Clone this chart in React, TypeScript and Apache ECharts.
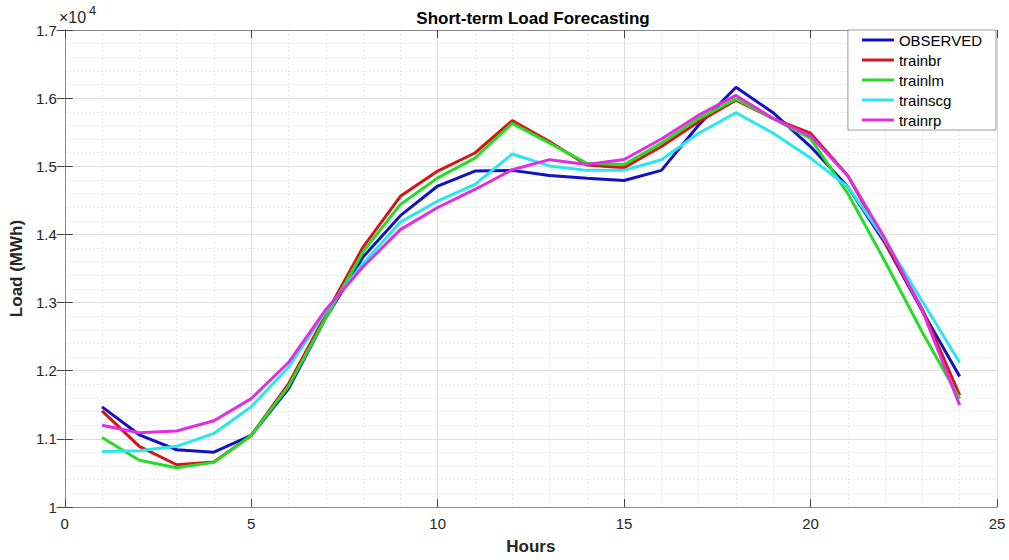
import React, { useEffect, useRef } from "react";
import * as echarts from "echarts";

const HOURS = [1, 2, 3, 4, 5, 6, 7, 8, 9, 10, 11, 12, 13, 14, 15, 16, 17, 18, 19, 20, 21, 22, 23, 24];

const OBSERVED = [11470, 11060, 10840, 10805, 11050, 11735, 12775, 13670, 14275, 14710, 14930, 14940, 14865, 14825, 14792, 14940, 15605, 16160, 15785, 15290, 14700, 13870, 12872, 11915];
const TRAINBR = [11410, 10890, 10620, 10660, 11050, 11805, 12823, 13815, 14560, 14930, 15195, 15670, 15363, 15020, 14980, 15290, 15655, 15970, 15700, 15485, 14860, 13880, 12900, 11640];
const TRAINLM = [11020, 10685, 10575, 10655, 11050, 11770, 12775, 13743, 14440, 14830, 15120, 15630, 15340, 15045, 15025, 15340, 15700, 15990, 15700, 15410, 14600, 13600, 12560, 11590];
const TRAINSCG = [10815, 10825, 10890, 11080, 11470, 12050, 12870, 13573, 14180, 14490, 14735, 15180, 15005, 14940, 14940, 15095, 15485, 15785, 15485, 15120, 14700, 13915, 13017, 12120];
const TRAINRP = [11200, 11090, 11115, 11265, 11590, 12120, 12895, 13525, 14070, 14395, 14660, 14950, 15097, 15025, 15100, 15400, 15750, 16040, 15700, 15445, 14860, 13935, 12880, 11495];

const SERIES_NAMES = ["OBSERVED", "trainbr", "trainlm", "trainscg", "trainrp"];
const SERIES_VALUES = [OBSERVED, TRAINBR, TRAINLM, TRAINSCG, TRAINRP];
const COLORS = ["#1212c2", "#d41616", "#27dc27", "#2ae6ef", "#e02ee0"];

const X_MIN = 0, X_MAX = 25, X_STEP = 5;
const Y_MIN = 10000, Y_MAX = 17000, Y_STEP = 1000;

const FONT = "Liberation Sans, Arial, Helvetica, sans-serif";
const TXT = "#262626";
const AX = "#8a8a8a";

export default function App() {
  const ref = useRef<HTMLDivElement>(null);
  useEffect(() => {
    if (!ref.current) return;
    const chart = echarts.init(ref.current, null, { renderer: "svg" });
    const baseX = {
      type: "value",
      min: X_MIN,
      max: X_MAX,
      interval: X_STEP,
    };
    const baseY = {
      type: "value",
      min: Y_MIN,
      max: Y_MAX,
      interval: Y_STEP,
    };
    chart.setOption({
      animation: false,
      backgroundColor: "#ffffff",
      textStyle: { fontFamily: FONT },
      title: {
        text: "Short-term Load Forecasting",
        left: 528,
        textAlign: "center",
        top: 5,
        textStyle: { fontFamily: FONT, fontSize: 17, fontWeight: "bold", color: "#000" },
      },
      grid: { left: 60, right: 12, top: 30, bottom: 49, containLabel: false },
      legend: {
        orient: "vertical",
        right: 13,
        top: 30,
        icon: "rect",
        itemWidth: 32,
        itemHeight: 3,
        itemGap: 4,
        padding: [2, 14, 2, 14],
        backgroundColor: "#ffffff",
        borderColor: "#9a9a9a",
        borderWidth: 1,
        borderRadius: 0,
        textStyle: { fontFamily: FONT, fontSize: 15, color: "#000", lineHeight: 16 },
        data: SERIES_NAMES,
      },
      xAxis: [
        {
          ...baseX,
          position: "bottom",
          name: "Hours",
          nameLocation: "middle",
          nameGap: 31,
          nameTextStyle: { fontFamily: FONT, fontSize: 17, fontWeight: "bold", color: TXT },
          axisLine: { show: true, lineStyle: { color: AX, width: 1 } },
          axisTick: { show: true, inside: true, length: 8, lineStyle: { color: "#444" } },
          axisLabel: { fontFamily: FONT, fontSize: 15, color: TXT, margin: 9 },
          splitLine: { show: true, lineStyle: { color: "#dedede", width: 1 } },
          minorTick: { show: false, splitNumber: 5 },
          minorSplitLine: { show: true, lineStyle: { color: "#e8e8e8", width: 1, type: [2, 2] } },
        },
        {
          ...baseX,
          position: "top",
          axisLine: { show: true, lineStyle: { color: AX, width: 1 } },
          axisTick: { show: true, inside: true, length: 8, lineStyle: { color: "#444" } },
          axisLabel: { show: false },
          splitLine: { show: false },
        },
      ],
      yAxis: [
        {
          ...baseY,
          position: "left",
          name: "Load (MWh)",
          nameLocation: "middle",
          nameGap: 34,
          nameTextStyle: { fontFamily: FONT, fontSize: 17, fontWeight: "bold", color: TXT },
          axisLine: { show: true, lineStyle: { color: AX, width: 1 } },
          axisTick: { show: true, inside: true, length: 8, lineStyle: { color: "#444" } },
          axisLabel: {
            fontFamily: FONT,
            fontSize: 15,
            color: TXT,
            margin: 8,
            formatter: (v: number) => String(Math.round(v / 100) / 100),
          },
          splitLine: { show: true, lineStyle: { color: "#dedede", width: 1 } },
          minorTick: { show: false, splitNumber: 5 },
          minorSplitLine: { show: true, lineStyle: { color: "#e8e8e8", width: 1, type: [2, 2] } },
        },
        {
          ...baseY,
          position: "right",
          axisLine: { show: true, lineStyle: { color: AX, width: 1 } },
          axisTick: { show: true, inside: true, length: 8, lineStyle: { color: "#444" } },
          axisLabel: { show: false },
          splitLine: { show: false },
        },
      ],
      graphic: [
        {
          type: "text",
          left: 59,
          top: 9,
          style: {
            text: "×10",
            font: "16px Liberation Sans, Arial, sans-serif",
            fill: TXT,
          },
        },
        {
          type: "text",
          left: 89,
          top: 4,
          style: {
            text: "4",
            font: "13px Liberation Sans, Arial, sans-serif",
            fill: TXT,
          },
        },
      ],
      series: SERIES_NAMES.map((name, i) => ({
        name,
        type: "line",
        xAxisIndex: 0,
        yAxisIndex: 0,
        symbol: "none",
        showSymbol: false,
        data: HOURS.map((h, j) => [h, SERIES_VALUES[i][j]]),
        lineStyle: { color: COLORS[i], width: 3 },
        itemStyle: { color: COLORS[i] },
        z: 3 + i,
      })),
    });
    return () => chart.dispose();
  }, []);
  return (
    <div
      ref={ref}
      style={{ position: "fixed", left: 0, top: 0, width: "1009px", height: "560px" }}
    />
  );
}
